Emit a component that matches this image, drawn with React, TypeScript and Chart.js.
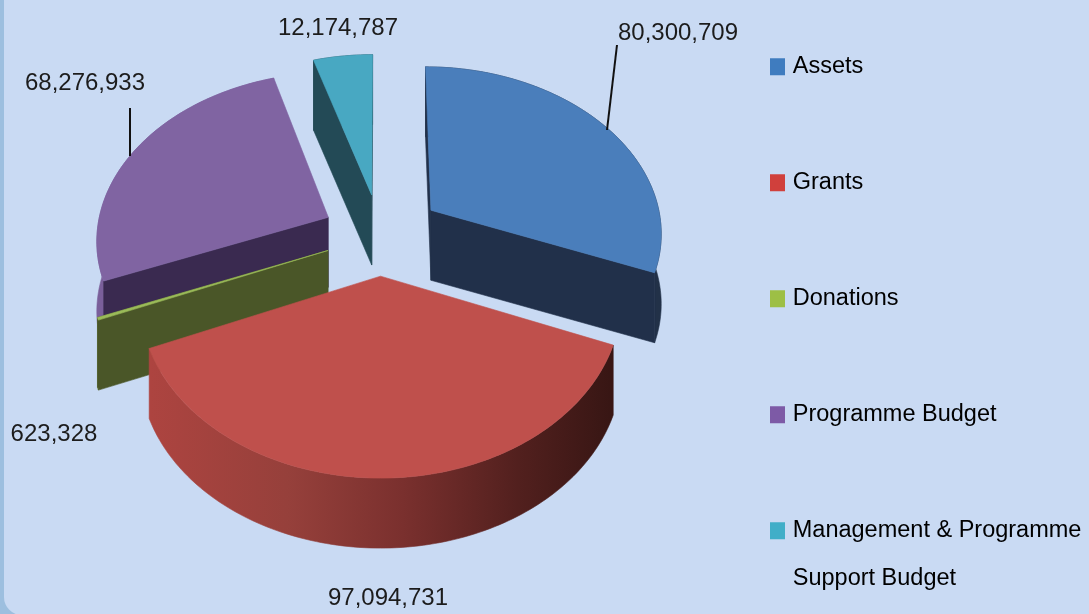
import React, { useEffect, useRef } from "react";
import { Chart, registerables } from "chart.js";

Chart.register(...registerables);

const categories: (string | string[])[] = [
  "Assets",
  "Grants",
  "Donations",
  "Programme Budget",
  ["Management & Programme", "Support Budget"],
];
const values = [80300709, 97094731, 623328, 68276933, 12174787];

const topColors = ["#4a7ebb", "#bf504c", "#9bbb59", "#8064a2", "#48a8c2"];
const cutColors = ["#21304a", "#5a2320", "#4a5628", "#3a2a50", "#234a56"];
const wallColors = ["#223148", "#a8423f", "#6f8a3c", "#7a5f9a", "#234a56"];
const legendColors = ["#3f7cbf", "#d0403c", "#9dbf45", "#7d5aa6", "#40aec8"];

const explode = [0.27, 0.24, 0.24, 0.25, 0.25];
const drawOrder = [4, 3, 0, 2, 1];
const labelPos: [number, number][] = [
  [678, 33],
  [388, 598],
  [54, 434],
  [85, 83],
  [338, 28],
];
const leaders: [number, number, number, number][] = [
  [617, 45, 607, 130],
  [130, 108, 130, 156],
];

const FONT = '"Liberation Sans", sans-serif';
const CX = 380, CY = 235, SX = 232, SY = 166.5, PERSP = 0.1216, DEPTH = 70;

const project = (u: number, v: number): [number, number] => {
  const d = 1 + PERSP * v;
  return [CX + (SX * u) / d, CY - (SY * v) / d];
};

const pie3d = {
  id: "pie3d",
  afterLayout(chart: any) {
    const l = chart.legend;
    l.left = 681.5;
    l.right = 1089;
    l.top = -37.5;
    l.bottom = 700;
  },
  beforeDatasetDraw(chart: any) {
    const ctx: CanvasRenderingContext2D = chart.ctx;
    const arcs = chart.getDatasetMeta(0).data;
    const quad = (pts: [number, number][], col: string | CanvasGradient) => {
      ctx.fillStyle = col;
      ctx.strokeStyle = col;
      ctx.lineWidth = 0.6;
      ctx.beginPath();
      pts.forEach((p, k) => (k ? ctx.lineTo(p[0], p[1]) : ctx.moveTo(p[0], p[1])));
      ctx.closePath();
      ctx.fill();
      ctx.stroke();
    };
    const down = (p: [number, number]): [number, number] => [p[0], p[1] + DEPTH];
    ctx.save();
    ctx.lineJoin = "round";
    for (const i of drawOrder) {
      const a0 = arcs[i].startAngle + Math.PI / 2;
      const a1 = arcs[i].endAngle + Math.PI / 2;
      const mid = (a0 + a1) / 2;
      const ou = Math.sin(mid) * explode[i];
      const ov = Math.cos(mid) * explode[i];
      const apex = project(ou, ov);
      const rim: [number, number][] = [];
      const n = Math.max(2, Math.ceil((a1 - a0) / 0.02));
      for (let k = 0; k <= n; k++) {
        const t = a0 + ((a1 - a0) * k) / n;
        rim.push(project(ou + Math.sin(t), ov + Math.cos(t)));
      }
      let wall: string | CanvasGradient = wallColors[i];
      if (i === 1) {
        const g = ctx.createLinearGradient(150, 0, 610, 0);
        g.addColorStop(0, "#ad4440");
        g.addColorStop(0.3, "#96403b");
        g.addColorStop(0.55, "#7a302e");
        g.addColorStop(0.8, "#52201e");
        g.addColorStop(1, "#381614");
        wall = g;
      }
      quad([...rim, ...rim.map(down).reverse()], wall);
      const rimMid = rim[Math.floor(rim.length / 2)];
      const cuts = [rim[0], rim[rim.length - 1]].sort((a, b) => a[1] - b[1]);
      for (const c of cuts) {
        // a cut face shows only when the slice lies above its top edge
        const ex = c[0] - apex[0];
        const lineY = apex[1] + (Math.abs(ex) < 1e-6 ? 0 : ((c[1] - apex[1]) / ex) * (rimMid[0] - apex[0]));
        if (rimMid[1] < lineY || i === 2) quad([apex, c, down(c), down(apex)], cutColors[i]);
      }
      quad([apex, ...rim], topColors[i]);
    }
    ctx.strokeStyle = "#111111";
    ctx.lineWidth = 2;
    for (const [x1, y1, x2, y2] of leaders) {
      ctx.beginPath();
      ctx.moveTo(x1, y1);
      ctx.lineTo(x2, y2);
      ctx.stroke();
    }
    ctx.fillStyle = "#1c1c1c";
    ctx.font = `24px ${FONT}`;
    ctx.textAlign = "center";
    ctx.textBaseline = "middle";
    values.forEach((v, i) => {
      ctx.fillText(v.toLocaleString("en-US"), labelPos[i][0], labelPos[i][1]);
    });
    ctx.restore();
    return false;
  },
};

export default function App() {
  const ref = useRef<HTMLCanvasElement>(null);
  useEffect(() => {
    document.body.style.margin = "0";
    const chart = new Chart(ref.current!, {
      type: "pie",
      data: {
        labels: categories as any,
        datasets: [{ data: values, backgroundColor: topColors, borderWidth: 0 }],
      },
      options: {
        animation: false,
        responsive: false,
        rotation: 0,
        plugins: {
          tooltip: { enabled: false },
          legend: {
            position: "right",
            align: "start",
            labels: {
              boxWidth: 7,
              boxHeight: 9,
              padding: 92.5,
              color: "#1c1c1c",
              font: { family: FONT, size: 23.5, lineHeight: "48px" },
              generateLabels: () =>
                categories.map((c, i) => ({
                  text: c as any,
                  fillStyle: legendColors[i],
                  strokeStyle: legendColors[i],
                  lineWidth: 8,
                  index: i,
                  hidden: false,
                })),
            },
          },
        },
      },
      plugins: [pie3d as any],
    });
    return () => chart.destroy();
  }, []);
  return (
    <div style={{ position: "relative", width: 1089, height: 614, overflow: "hidden", background: "#9dbfdf" }}>
      <div
        style={{
          position: "absolute",
          left: 4,
          top: -30,
          width: 1120,
          height: 645,
          background: "#c9daf3",
          borderRadius: 18,
        }}
      />
      <canvas ref={ref} width={1089} height={700} style={{ position: "absolute", left: 0, top: 0 }} />
    </div>
  );
}
